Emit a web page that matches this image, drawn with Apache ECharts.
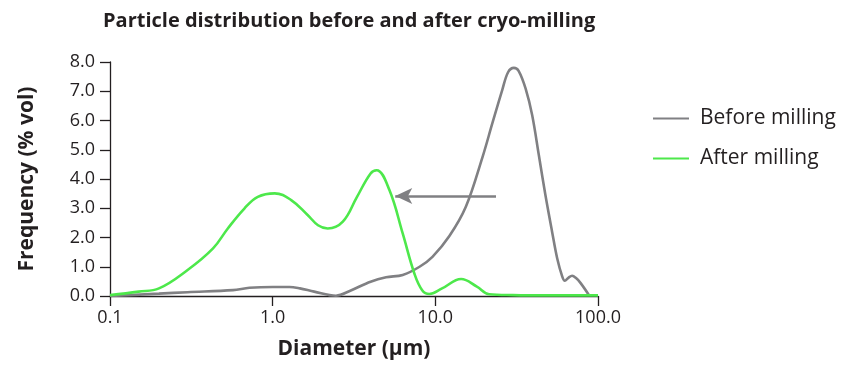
<!DOCTYPE html>
<html>
<head>
<meta charset="utf-8">
<script src="https://cdn.jsdelivr.net/npm/echarts@6/dist/echarts.min.js"></script>
<style>
  html, body { margin: 0; padding: 0; background: #ffffff; }
  #chart { width: 853px; height: 368px; }
</style>
</head>
<body>
<div id="chart"></div>
<script>
// Particle size distribution (volume %) against diameter on a log scale
const beforeDiameter = [0.1, 0.2, 0.3, 0.57, 0.72, 1.0, 1.27, 1.47, 1.8, 2.45, 3.0, 4.0, 4.98, 6.3, 8.0, 9.6, 12.2, 15.4, 19.5, 22.4, 25.8, 28.0, 30.4, 32.5, 35.9, 39.4, 43.3, 47.5, 52.2, 56.1, 60.3, 62.5, 66.0, 69.3, 73.0, 78.0, 88.0];
const beforeFreq     = [0.0, 0.08, 0.13, 0.2, 0.28, 0.31, 0.31, 0.26, 0.15, 0.01, 0.18, 0.49, 0.64, 0.72, 1.0, 1.34, 2.05, 3.05, 4.75, 5.9, 7.05, 7.65, 7.8, 7.7, 7.09, 6.18, 4.81, 3.45, 2.2, 1.29, 0.66, 0.52, 0.63, 0.69, 0.62, 0.45, 0.03];

const afterDiameter = [0.1, 0.15, 0.2, 0.3, 0.43, 0.53, 0.67, 0.81, 1.03, 1.3, 1.64, 1.9, 2.18, 2.7, 3.3, 4.0, 4.36, 5.22, 6.3, 7.43, 8.3, 9.18, 11.0, 14.4, 18.0, 21.4, 30.0, 50.0, 100.0];
const afterFreq     = [0.03, 0.15, 0.26, 0.89, 1.63, 2.31, 2.99, 3.39, 3.51, 3.28, 2.77, 2.42, 2.31, 2.54, 3.39, 4.19, 4.30, 3.62, 2.14, 0.77, 0.2, 0.07, 0.26, 0.58, 0.32, 0.06, 0.03, 0.02, 0.02];

const xTicks = [0.1, 1, 10, 100];
const yTicks = [0, 1, 2, 3, 4, 5, 6, 7, 8];

// Shift annotation: arrow pointing from the coarse peak toward the fine peak
const arrowFrom = [23.6, 3.42];
const arrowTo   = [5.67, 3.42];

const seriesNames = ['Before milling', 'After milling'];
const colors = ['#808083', '#4de84b'];

const pairs = (xs, ys) => xs.map((x, i) => [x, ys[i]]);

const inkColor = '#231f20';
const font = 'Open Sans';

const chart = echarts.init(document.getElementById('chart'), null, { renderer: 'canvas' });

chart.setOption({
  animation: false,
  backgroundColor: '#ffffff',
  title: {
    text: 'Particle distribution before and after cryo-milling',
    left: 98,
    top: 6,
    textStyle: { fontFamily: font, fontWeight: 'bold', fontSize: 20, color: inkColor }
  },
  legend: {
    orient: 'vertical',
    left: 648,
    top: 103,
    itemWidth: 36,
    itemHeight: 20,
    itemGap: 19,
    icon: 'path://M0,9 L36,9 L36,11 L0,11 Z',
    data: seriesNames,
    textStyle: { fontFamily: font, fontSize: 21, color: inkColor, lineHeight: 20, padding: [0, 0, 0, 6] }
  },
  grid: { left: 110, right: 255, top: 62, bottom: 72, containLabel: false },
  xAxis: {
    type: 'log',
    logBase: 10,
    min: xTicks[0],
    max: xTicks[xTicks.length - 1],
    name: 'Diameter (µm)',
    nameLocation: 'middle',
    nameGap: 43,
    nameTextStyle: { fontFamily: font, fontWeight: 'bold', fontSize: 21, color: inkColor },
    axisLine: { lineStyle: { color: inkColor, width: 1.3 } },
    axisTick: { show: true, length: 10, inside: false, lineStyle: { color: inkColor, width: 1.3 } },
    minorTick: { show: false },
    splitLine: { show: false },
    axisLabel: {
      fontFamily: font, fontSize: 18, color: inkColor, margin: 13,
      formatter: v => Number(v).toFixed(1)
    }
  },
  yAxis: {
    type: 'value',
    min: yTicks[0],
    max: yTicks[yTicks.length - 1],
    interval: 1,
    name: 'Frequency (% vol)',
    nameLocation: 'middle',
    nameGap: 72,
    nameTextStyle: { fontFamily: font, fontWeight: 'bold', fontSize: 21, color: inkColor },
    axisLine: { show: true, lineStyle: { color: inkColor, width: 1.3 } },
    axisTick: { show: true, length: 10, inside: false, lineStyle: { color: inkColor, width: 1.3 } },
    splitLine: { show: false },
    axisLabel: {
      fontFamily: font, fontSize: 18, color: inkColor, margin: 15,
      formatter: v => Number(v).toFixed(1)
    }
  },
  series: [
    {
      name: seriesNames[0],
      type: 'line',
      data: pairs(beforeDiameter, beforeFreq),
      smooth: 0.35,
      symbol: 'none',
      lineStyle: { color: colors[0], width: 2.6 },
      itemStyle: { color: colors[0] },
      z: 2,
      markLine: {
        silent: true,
        symbol: ['none', 'arrow'],
        symbolSize: [12, 17],
        label: { show: false },
        lineStyle: { color: colors[0], width: 2.6, type: 'solid' },
        data: [[{ coord: arrowFrom }, { coord: arrowTo }]]
      }
    },
    {
      name: seriesNames[1],
      type: 'line',
      data: pairs(afterDiameter, afterFreq),
      smooth: 0.4,
      symbol: 'none',
      lineStyle: { color: colors[1], width: 2.6 },
      itemStyle: { color: colors[1] },
      z: 3
    }
  ]
});
</script>
</body>
</html>
